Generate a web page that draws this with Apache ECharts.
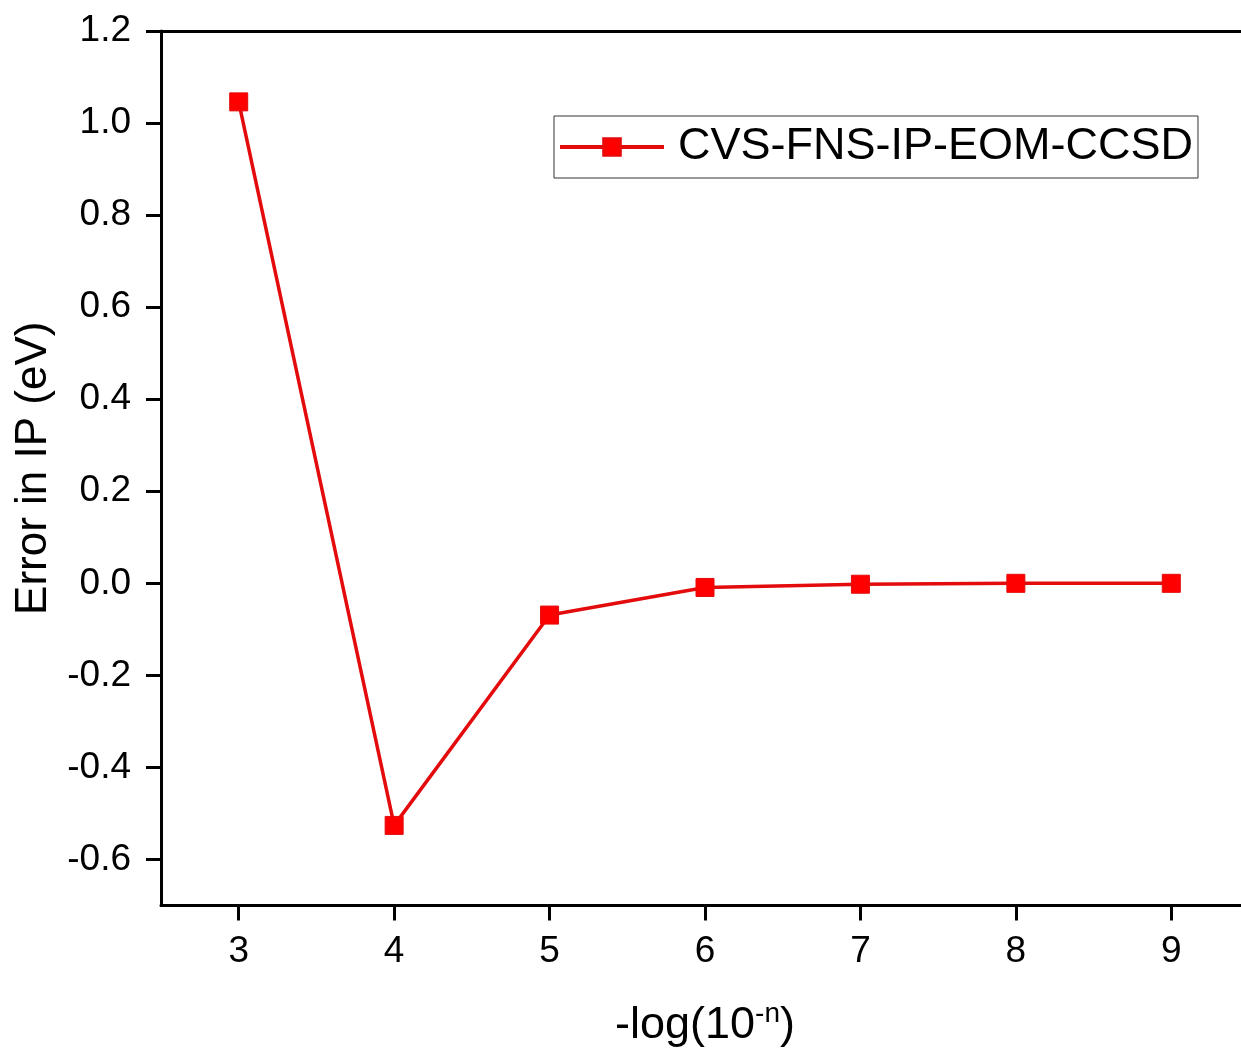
<!DOCTYPE html>
<html>
<head>
<meta charset="utf-8">
<style>
  html, body { margin: 0; padding: 0; background: #fff; overflow: hidden; }
  /* the original frame runs a few px past the right edge of the picture */
  #chart { width: 1249px; height: 1053px; }
</style>
<script src="https://cdn.jsdelivr.net/npm/echarts@6/dist/echarts.min.js"></script>
</head>
<body>
<div id="chart"></div>
<script>
// -log(10^-n) thresholds
const nValues = ['3', '4', '5', '6', '7', '8', '9']
// error in IP (eV)
const ipError = [1.046, -0.526, -0.069, -0.009, -0.002, 0.0, 0.0]
const yTicks = [-0.6, -0.4, -0.2, 0.0, 0.2, 0.4, 0.6, 0.8, 1.0, 1.2]
const seriesName = 'CVS-FNS-IP-EOM-CCSD'

const font = 'Liberation Sans, Arial, sans-serif'
const axisLine = { show: true, onZero: false, lineStyle: { color: '#000', width: 3 } }

const chart = echarts.init(document.getElementById('chart'))
chart.setOption({
  backgroundColor: '#fff',
  animation: false,
  textStyle: { fontFamily: font, color: '#000' },
  grid: { left: 161, top: 31, right: 0, bottom: 145 },
  legend: {
    left: 554,
    top: 116,
    padding: [8, 5, 8, 4],
    borderColor: '#333',
    borderWidth: 1,
    itemWidth: 104,
    itemHeight: 22,
    lineStyle: { width: 4 },
    textStyle: { fontSize: 45, color: '#000', fontFamily: font, padding: [0, 0, 0, 9], lineHeight: 46 },
    data: [seriesName]
  },
  xAxis: [{
    type: 'category',
    data: nValues,
    boundaryGap: true,
    position: 'bottom',
    name: '{a|-log(10}{s|-n}{a|)}',
    nameLocation: 'middle',
    nameGap: 95,
    nameTextStyle: {
      rich: {
        a: { fontSize: 45, lineHeight: 50, color: '#000', fontFamily: font },
        s: { fontSize: 28, lineHeight: 28, verticalAlign: 'top', color: '#000', fontFamily: font }
      }
    },
    axisLine: axisLine,
    axisTick: { show: true, alignWithLabel: true, length: 15, lineStyle: { color: '#000', width: 3 } },
    axisLabel: { fontSize: 37, color: '#000', margin: 28, fontFamily: font },
    splitLine: { show: false }
  }, {
    type: 'category',
    data: nValues,
    position: 'top',
    axisLine: axisLine,
    axisTick: { show: false },
    axisLabel: { show: false },
    splitLine: { show: false }
  }],
  yAxis: {
    type: 'value',
    min: -0.7,
    max: 1.2,
    name: 'Error in IP (eV)',
    nameLocation: 'middle',
    nameRotate: 90,
    nameGap: 102,
    nameTextStyle: { fontSize: 44, color: '#000', fontFamily: font },
    axisLine: axisLine,
    axisTick: { show: true, length: 15, customValues: yTicks, lineStyle: { color: '#000', width: 3 } },
    axisLabel: {
      fontSize: 37, color: '#000', margin: 30, fontFamily: font,
      customValues: yTicks,
      formatter: v => v.toFixed(1)
    },
    splitLine: { show: false }
  },
  series: [{
    name: seriesName,
    type: 'line',
    data: ipError,
    symbol: 'rect',
    symbolSize: 18,
    lineStyle: { color: '#e30b0b', width: 3.5 },
    itemStyle: { color: '#ff0000', borderColor: '#e30b0b', borderWidth: 1 }
  }]
})
</script>
</body>
</html>
